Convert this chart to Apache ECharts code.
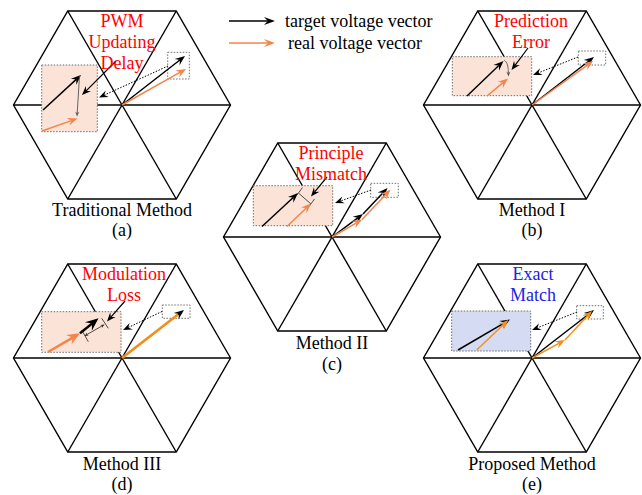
<!DOCTYPE html>
<html>
<head>
<meta charset="utf-8">
<script src="https://cdn.jsdelivr.net/npm/echarts@6/dist/echarts.min.js"></script>
<style>
html,body{margin:0;padding:0;background:#fff;}
#c{width:642px;height:495px;}
</style>
</head>
<body>
<div id="c"></div>
<script>
// Space-vector hexagons, one per modulation method (diagram units)
const hexCenters = [[122,105],[532,105],[332,237],[122,358],[532,358]];
const hexRadius = 108.5;
const hexHalfHeight = 94;

const methodNames = ['Traditional Method','Method I','Method II','Method III','Proposed Method'];
const panelTags = ['(a)','(b)','(c)','(d)','(e)'];
const issueLines = [['PWM','Updating','Delay'],['Prediction','Error'],['Principle','Mismatch'],['Modulation','Loss'],['Exact','Match']];
const legendNames = ['target voltage vector','real voltage vector'];

// target (black) voltage vectors: [x1, y1, x2, y2]
const targetVectors = [
  [122,105,185,56],[43,110,81,75],
  [532,105,594,57],[467,96,503.5,61],
  [332,237,363,214],[363,214,387.5,188],[262,226.5,298,193],
  [122,358,184,310],
  [532,358,594,310],[458,350,510,319.5]
];
// real (orange) voltage vectors
const realVectors = [
  [122,105,186,69],[42,131,77.5,118.5],
  [532,105,593,61],[487,96,508,78.5],
  [332,237,362,219.5],[362,219.5,390.5,189.5],[287,226.5,311,203.5]
];
const realVectorsBright = [
  [532,358,565,340],[565,340,592,311],[476.7,350,508.3,320]
];
// Method III: thick vectors in the zoomed view
const realVectorsBold = [[48,352,80,333.3]];
const targetVectorsBold = [[80,333.3,98.5,318.3]];
// Method III: real vector drawn along the main target vector (no head)
const realSegmentsBold = [[122,358,178,314.5]];

// zoom links: small box -> enlarged box
const zoomLinks = [
  [168,66,99,97.5],[578,57,533,75],[371,190,335,203],[162,311.5,123,330],[577,312,532,330]
];
// annotation pointers from the issue text
const pointers = [
  [116,61,82,95],[528,48,511.5,70],[327,177,311,196.5],[125,301,107,321.5]
];
// fine marks inside the enlarged boxes
const errorArrows = [[79.5,76,77,116.5],[508.3,71,508.5,76.5]];
const errorCurves = [[504,60,507,63.5,508.3,71]];
const dimLines = [
  [299,193.5,311,204],[297,195,302.5,187.5],[309,206.5,314.5,199],
  [81.7,330,88.3,341.7],[101.7,318.3,108.3,328.3]
];
const dimArrows = [[84.5,336,104.5,324.5]];

// small (source) and enlarged boxes: [x1, y1, x2, y2]
const smallBoxes = [
  [167.7,52.3,189.3,79],[578.3,51,605.7,65],[370.7,183.3,398.3,197.3],[162.3,305,190,318.3],[576.7,305.7,603.3,319]
];
const bigBoxes = [
  [41.7,65,97.3,131.7],[452.3,56.7,531.7,95.7],[253.3,185.7,332.7,225.7],[41.7,311.7,121,352.3],[451.7,311,530.7,351]
];
const bigBoxKinds = ['err','err','err','err','ok'];

// legend arrows
const legendArrows = [[229,21,275,21],[229,43,275,43]];

const FONT = "'Liberation Serif','Times New Roman',serif";
const BLACK = '#000';
const ORANGE = '#f5844a';
const ORANGE2 = '#f3901c';
const RED = '#ff0000';
const BLUE = '#2323e0';

function headPts(p1, p2, L, W, notch) {
  const dx = p2[0]-p1[0], dy = p2[1]-p1[1];
  const len = Math.hypot(dx, dy) || 1;
  const ux = dx/len, uy = dy/len, px = -uy, py = ux;
  const bx = p2[0]-L*ux, by = p2[1]-L*uy;
  const nx = p2[0]-L*(1-notch)*ux, ny = p2[1]-L*(1-notch)*uy;
  return {
    pts: [[p2[0],p2[1]],[bx+W*px,by+W*py],[nx,ny],[bx-W*px,by-W*py]],
    neck: [nx, ny]
  };
}

function arrowSeries(data, opt) {
  return {
    type: 'custom', coordinateSystem: 'cartesian2d', clip: false, silent: true,
    z: opt.z || 5,
    data: data,
    renderItem: function (params, api) {
      const p1 = api.coord([api.value(0), api.value(1)]);
      const p2 = api.coord([api.value(2), api.value(3)]);
      const children = [];
      let end = p2, start = p1;
      if (opt.head) {
        const h = headPts(p1, p2, opt.head[0], opt.head[1], 0.35);
        end = h.neck;
        children.push({type:'polygon', shape:{points:h.pts}, style:{fill: opt.headColor || opt.color}, z2: 2});
      }
      if (opt.both) {
        const h2 = headPts(p2, p1, opt.head[0], opt.head[1], 0.35);
        start = h2.neck;
        children.push({type:'polygon', shape:{points:h2.pts}, style:{fill: opt.color}, z2: 2});
      }
      children.unshift({
        type:'line',
        shape:{x1:start[0], y1:start[1], x2:end[0], y2:end[1]},
        style:{stroke: opt.color, lineWidth: opt.width, lineDash: opt.dash || null, fill: null}
      });
      return {type:'group', children: children};
    }
  };
}

function lineSeries(data, color, width, z) {
  return {
    type:'custom', coordinateSystem:'cartesian2d', clip:false, silent:true, z: z || 5,
    data: data,
    renderItem: function (params, api) {
      const p1 = api.coord([api.value(0), api.value(1)]);
      const p2 = api.coord([api.value(2), api.value(3)]);
      return {type:'line', shape:{x1:p1[0],y1:p1[1],x2:p2[0],y2:p2[1]}, style:{stroke:color, lineWidth:width}};
    }
  };
}

function curveSeries(data, color, width) {
  return {
    type:'custom', coordinateSystem:'cartesian2d', clip:false, silent:true, z:5,
    data: data,
    renderItem: function (params, api) {
      const pts = [];
      for (let i = 0; i < 3; i++) pts.push(api.coord([api.value(2*i), api.value(2*i+1)]));
      return {type:'polyline', shape:{points:pts, smooth:0.5}, style:{stroke:color, lineWidth:width, fill:null}};
    }
  };
}

function boxSeries(data, fillFn, z) {
  return {
    type:'custom', coordinateSystem:'cartesian2d', clip:false, silent:true, z: z,
    data: data,
    renderItem: function (params, api) {
      const p1 = api.coord([api.value(0), api.value(1)]);
      const p2 = api.coord([api.value(2), api.value(3)]);
      return {
        type:'rect',
        shape:{x:Math.min(p1[0],p2[0]), y:Math.min(p1[1],p2[1]), width:Math.abs(p2[0]-p1[0]), height:Math.abs(p2[1]-p1[1])},
        style:{fill: fillFn(params.dataIndex), stroke:'#6e6e6e', lineWidth:1, lineDash:[1.5,1.5]}
      };
    }
  };
}

const hexSeries = {
  type:'custom', coordinateSystem:'cartesian2d', clip:false, silent:true, z:1,
  data: hexCenters,
  renderItem: function (params, api) {
    const cx = api.value(0), cy = api.value(1);
    const v = [
      [cx+hexRadius, cy],[cx+hexRadius/2, cy-hexHalfHeight],[cx-hexRadius/2, cy-hexHalfHeight],
      [cx-hexRadius, cy],[cx-hexRadius/2, cy+hexHalfHeight],[cx+hexRadius/2, cy+hexHalfHeight]
    ].map(function (p) { return api.coord(p); });
    const st = {stroke:'#000', lineWidth:1.4, fill:null};
    const children = [{type:'polygon', shape:{points:v}, style:st}];
    for (let i = 0; i < 3; i++) {
      children.push({type:'line', shape:{x1:v[i][0],y1:v[i][1],x2:v[i+3][0],y2:v[i+3][1]}, style:st});
    }
    return {type:'group', children: children};
  }
};

// text layout: [x, y, text, color, align]
const textItems = [];
const issueOffsets = [0,-1,-1,2,1];
hexCenters.forEach(function (c, i) {
  issueLines[i].forEach(function (t, j) {
    textItems.push([c[0]+issueOffsets[i], c[1]-84+21*j, t, i === 4 ? BLUE : RED, 'center']);
  });
});
const captionDy = [[105,125],[105,125],[106,127],[106,126],[106,126]];
hexCenters.forEach(function (c, i) {
  textItems.push([c[0], c[1]+captionDy[i][0], methodNames[i], '#000', 'center']);
  textItems.push([c[0], c[1]+captionDy[i][1], panelTags[i], '#000', 'center']);
});
textItems.push([285, 21, legendNames[0], '#000', 'left']);
textItems.push([288, 43, legendNames[1], '#000', 'left']);

const textSeries = {
  type:'custom', coordinateSystem:'cartesian2d', clip:false, silent:true, z:10,
  data: textItems.map(function (t) { return [t[0], t[1]]; }),
  renderItem: function (params, api) {
    const t = textItems[params.dataIndex];
    const p = api.coord([api.value(0), api.value(1)]);
    return {
      type:'text', x:p[0], y:p[1],
      style:{text:t[2], fill:t[3], font:'18px ' + FONT, textAlign:t[4], textVerticalAlign:'middle'}
    };
  }
};

const chart = echarts.init(document.getElementById('c'), null, {renderer:'svg'});
chart.setOption({
  animation:false,
  backgroundColor:'#fff',
  grid:{left:0, right:0, top:0, bottom:0},
  xAxis:{type:'value', min:0, max:642, show:false},
  yAxis:{type:'value', min:0, max:495, inverse:true, show:false},
  series:[
    hexSeries,
    boxSeries(bigBoxes, function (i) { return bigBoxKinds[i] === 'ok' ? '#d5dbf3' : '#fbe4d7'; }, 2),
    boxSeries(smallBoxes, function () { return 'rgba(0,0,0,0)'; }, 2),
    arrowSeries(zoomLinks, {color:'#000', width:1, dash:[1.5,1.5], head:[9,3.6], z:3}),
    arrowSeries(pointers, {color:'#000', width:1.2, head:[9,3.6], z:6}),
    arrowSeries(targetVectors, {color:BLACK, width:1.5, head:[10,4]}),
    lineSeries(realSegmentsBold, ORANGE2, 2.6, 6),
    arrowSeries(realVectors, {color:ORANGE, width:1.5, head:[10,4], z:6}),
    arrowSeries(realVectorsBright, {color:ORANGE2, width:1.5, head:[10,4], z:6}),
    arrowSeries(realVectorsBold, {color:ORANGE, width:2.5, head:[13,5.5], z:6}),
    arrowSeries(targetVectorsBold, {color:BLACK, width:2.5, head:[13,5.5], z:6}),
    arrowSeries(errorArrows, {color:'#555', width:0.9, head:[5,2], z:6}),
    curveSeries(errorCurves, '#555', 0.9),
    lineSeries(dimLines, '#222', 0.8, 6),
    arrowSeries(dimArrows, {color:'#222', width:0.8, head:[4,1.8], both:true, z:6}),
    arrowSeries(legendArrows.slice(0,1), {color:BLACK, width:1.5, head:[11,4]}),
    arrowSeries(legendArrows.slice(1), {color:ORANGE, width:1.5, head:[11,4]}),
    textSeries
  ]
});
</script>
</body>
</html>
